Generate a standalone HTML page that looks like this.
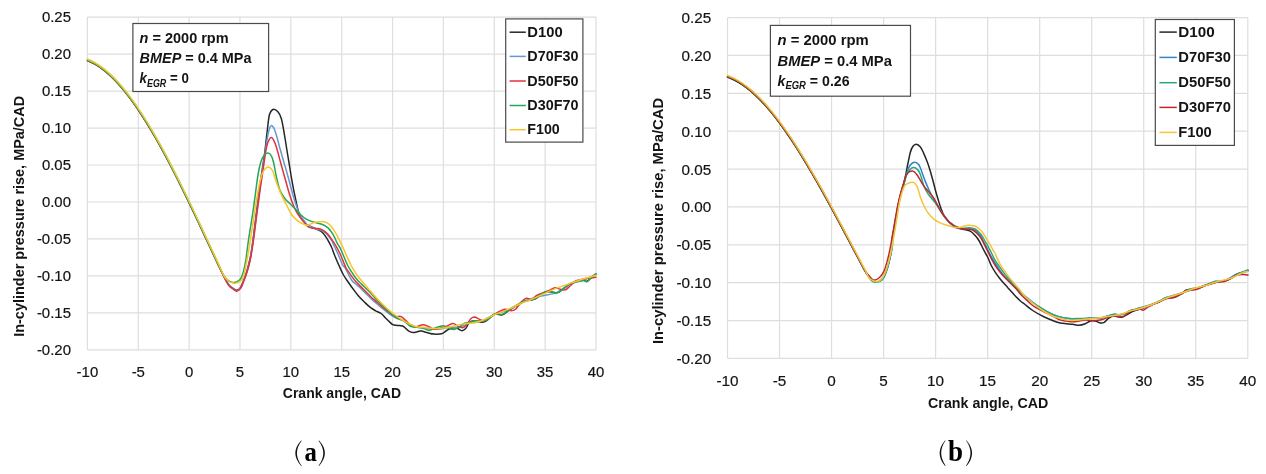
<!DOCTYPE html>
<html><head><meta charset="utf-8"><style>
html,body{margin:0;padding:0;background:#fff;}
svg{display:block;will-change:transform;font-family:"Liberation Sans",sans-serif;}
</style></head><body>
<svg width="1266" height="474" viewBox="0 0 1266 474">
<rect width="1266" height="474" fill="#fff"/>
<g stroke="#dedede" stroke-width="1.2" shape-rendering="auto">
<line x1="87.40" y1="17.10" x2="87.40" y2="349.90"/>
<line x1="138.26" y1="17.10" x2="138.26" y2="349.90"/>
<line x1="189.12" y1="17.10" x2="189.12" y2="349.90"/>
<line x1="239.98" y1="17.10" x2="239.98" y2="349.90"/>
<line x1="290.84" y1="17.10" x2="290.84" y2="349.90"/>
<line x1="341.70" y1="17.10" x2="341.70" y2="349.90"/>
<line x1="392.56" y1="17.10" x2="392.56" y2="349.90"/>
<line x1="443.42" y1="17.10" x2="443.42" y2="349.90"/>
<line x1="494.28" y1="17.10" x2="494.28" y2="349.90"/>
<line x1="545.14" y1="17.10" x2="545.14" y2="349.90"/>
<line x1="596.00" y1="17.10" x2="596.00" y2="349.90"/>
<line x1="87.40" y1="17.10" x2="596.00" y2="17.10"/>
<line x1="87.40" y1="54.08" x2="596.00" y2="54.08"/>
<line x1="87.40" y1="91.06" x2="596.00" y2="91.06"/>
<line x1="87.40" y1="128.03" x2="596.00" y2="128.03"/>
<line x1="87.40" y1="165.01" x2="596.00" y2="165.01"/>
<line x1="87.40" y1="201.99" x2="596.00" y2="201.99"/>
<line x1="87.40" y1="238.97" x2="596.00" y2="238.97"/>
<line x1="87.40" y1="275.94" x2="596.00" y2="275.94"/>
<line x1="87.40" y1="312.92" x2="596.00" y2="312.92"/>
<line x1="87.40" y1="349.90" x2="596.00" y2="349.90"/>
</g>
<g font-size="15.4" fill="#141414" stroke="#141414" stroke-width="0.2" text-anchor="end">
<text x="71.0" y="22.4" textLength="29.1" lengthAdjust="spacingAndGlyphs">0.25</text>
<text x="71.0" y="59.4" textLength="29.1" lengthAdjust="spacingAndGlyphs">0.20</text>
<text x="71.0" y="96.4" textLength="29.1" lengthAdjust="spacingAndGlyphs">0.15</text>
<text x="71.0" y="133.3" textLength="29.1" lengthAdjust="spacingAndGlyphs">0.10</text>
<text x="71.0" y="170.3" textLength="29.1" lengthAdjust="spacingAndGlyphs">0.05</text>
<text x="71.0" y="207.3" textLength="29.1" lengthAdjust="spacingAndGlyphs">0.00</text>
<text x="71.0" y="244.3" textLength="34.1" lengthAdjust="spacingAndGlyphs">-0.05</text>
<text x="71.0" y="281.2" textLength="34.1" lengthAdjust="spacingAndGlyphs">-0.10</text>
<text x="71.0" y="318.2" textLength="34.1" lengthAdjust="spacingAndGlyphs">-0.15</text>
<text x="71.0" y="355.2" textLength="34.1" lengthAdjust="spacingAndGlyphs">-0.20</text>
</g>
<g font-size="15.4" fill="#141414" stroke="#141414" stroke-width="0.2" text-anchor="middle">
<text x="87.4" y="376.8" textLength="21.6" lengthAdjust="spacingAndGlyphs">-10</text>
<text x="138.3" y="376.8" textLength="13.3" lengthAdjust="spacingAndGlyphs">-5</text>
<text x="189.1" y="376.8" textLength="8.3" lengthAdjust="spacingAndGlyphs">0</text>
<text x="240.0" y="376.8" textLength="8.3" lengthAdjust="spacingAndGlyphs">5</text>
<text x="290.8" y="376.8" textLength="16.6" lengthAdjust="spacingAndGlyphs">10</text>
<text x="341.7" y="376.8" textLength="16.6" lengthAdjust="spacingAndGlyphs">15</text>
<text x="392.6" y="376.8" textLength="16.6" lengthAdjust="spacingAndGlyphs">20</text>
<text x="443.4" y="376.8" textLength="16.6" lengthAdjust="spacingAndGlyphs">25</text>
<text x="494.3" y="376.8" textLength="16.6" lengthAdjust="spacingAndGlyphs">30</text>
<text x="545.1" y="376.8" textLength="16.6" lengthAdjust="spacingAndGlyphs">35</text>
<text x="596.0" y="376.8" textLength="16.6" lengthAdjust="spacingAndGlyphs">40</text>
</g>
<text x="341.9" y="397.9" font-size="14.5" font-weight="bold" fill="#141414" text-anchor="middle" textLength="118.2" lengthAdjust="spacingAndGlyphs">Crank angle, CAD</text>
<text transform="translate(23.8,216.3) rotate(-90)" font-size="14.3" font-weight="bold" fill="#141414" text-anchor="middle" textLength="241.0" lengthAdjust="spacingAndGlyphs">In-cylinder pressure rise, MPa/CAD</text>
<g fill="none" stroke-width="1.5" stroke-linejoin="round" stroke-linecap="round">
<path stroke="#262626" d="M87.5,60.6 C88.8,61.2 92.5,62.8 95.0,64.2 C97.5,65.6 100.0,67.3 102.5,69.2 C105.0,71.1 107.5,73.2 110.0,75.5 C112.5,77.8 115.0,80.3 117.5,83.0 C120.0,85.7 122.5,88.7 125.0,91.8 C127.5,94.9 130.0,98.1 132.5,101.6 C135.0,105.0 137.5,108.7 140.0,112.5 C142.5,116.3 145.0,120.2 147.5,124.3 C150.0,128.4 152.5,132.6 155.0,136.9 C157.5,141.2 160.0,145.7 162.5,150.3 C165.0,154.9 167.1,158.8 170.0,164.4 C172.9,170.0 176.7,177.4 180.0,184.1 C183.3,190.8 186.7,197.7 190.0,204.6 C193.3,211.5 196.7,218.6 200.0,225.7 C203.3,232.8 207.0,240.8 210.0,247.2 C213.0,253.6 215.7,259.5 218.0,264.4 C220.3,269.2 222.0,272.9 223.8,276.3 C225.6,279.7 227.4,283.1 228.9,285.0 C230.4,286.9 231.4,287.1 232.7,288.0 C234.0,288.9 235.2,290.3 236.5,290.3 C237.8,290.3 239.1,289.6 240.3,287.8 C241.6,286.0 242.8,282.5 244.0,279.5 C245.2,276.5 246.1,273.8 247.2,270.0 C248.3,266.2 249.4,262.0 250.4,257.0 C251.4,252.0 252.0,247.5 253.0,240.0 C254.0,232.5 255.4,220.7 256.5,212.0 C257.6,203.3 258.6,194.7 259.5,188.0 C260.4,181.3 261.1,177.0 261.9,172.0 C262.6,167.0 263.4,162.0 264.0,158.0 C264.6,154.0 264.7,153.3 265.3,148.0 C265.9,142.7 267.1,131.6 267.8,126.0 C268.5,120.4 268.6,117.2 269.5,114.5 C270.4,111.8 271.5,110.0 272.9,109.5 C274.3,109.0 276.5,110.3 277.9,111.8 C279.3,113.3 280.3,115.3 281.3,118.5 C282.3,121.7 282.9,125.8 283.8,131.0 C284.7,136.2 286.0,144.3 286.9,150.0 C287.8,155.7 288.6,160.1 289.4,165.2 C290.2,170.3 291.0,175.6 291.9,180.4 C292.8,185.2 293.6,189.7 294.5,193.9 C295.4,198.1 296.2,202.2 297.0,205.7 C297.8,209.2 298.4,212.5 299.5,215.0 C300.6,217.5 302.6,219.3 303.8,220.9 C305.0,222.5 305.1,223.3 306.7,224.5 C308.3,225.7 311.6,226.9 313.5,227.8 C315.4,228.7 316.7,229.3 318.0,229.9 C319.3,230.5 320.1,230.7 321.2,231.5 C322.2,232.3 323.4,233.4 324.3,234.6 C325.2,235.8 326.0,237.0 326.9,238.4 C327.8,239.8 328.6,241.4 329.4,242.8 C330.2,244.2 330.6,245.0 331.5,247.0 C332.4,249.0 333.2,251.9 334.5,255.0 C335.8,258.1 337.5,262.2 339.0,265.5 C340.5,268.8 341.8,272.0 343.5,275.0 C345.2,278.0 347.6,281.1 349.2,283.5 C350.8,285.9 351.8,287.2 353.4,289.4 C355.0,291.6 357.0,294.2 359.0,296.5 C361.0,298.8 363.4,301.0 365.3,302.9 C367.2,304.8 368.9,306.4 370.6,307.7 C372.4,309.0 374.1,309.9 375.8,310.9 C377.6,311.9 379.5,312.4 381.1,313.5 C382.7,314.6 383.9,316.3 385.3,317.7 C386.7,319.1 388.4,320.8 389.6,321.9 C390.8,323.0 391.5,324.0 392.7,324.6 C393.9,325.2 395.3,325.2 397.0,325.4 C398.7,325.6 400.8,325.1 402.7,326.0 C404.6,326.9 406.6,329.7 408.4,330.8 C410.1,331.9 411.6,332.5 413.2,332.6 C414.8,332.7 416.6,331.8 418.0,331.5 C419.4,331.2 419.8,330.9 421.4,331.1 C423.0,331.3 425.6,332.3 427.7,332.8 C429.8,333.3 431.7,334.0 434.0,334.1 C436.3,334.2 439.5,334.3 441.6,333.7 C443.7,333.1 445.0,331.4 446.7,330.5 C448.4,329.6 450.1,328.4 451.8,328.0 C453.5,327.6 455.1,327.6 456.8,328.0 C458.5,328.5 460.4,330.7 461.9,330.7 C463.4,330.8 464.4,329.9 465.7,328.5 C467.0,327.1 468.0,323.7 469.5,322.4 C471.0,321.1 472.7,320.9 474.6,320.8 C476.5,320.8 479.0,322.3 480.9,322.3 C482.8,322.3 483.7,322.3 486.0,321.0 C488.3,319.7 492.1,315.3 494.8,314.3 C497.5,313.3 499.7,315.6 502.2,314.8 C504.7,314.1 507.1,311.4 509.6,309.8 C512.1,308.2 514.5,306.7 517.0,305.3 C519.5,303.9 521.8,302.4 524.3,301.5 C526.8,300.6 529.7,300.4 531.7,299.9 C533.7,299.4 534.3,299.5 536.3,298.3 C538.3,297.1 541.6,293.9 543.9,292.8 C546.2,291.7 548.2,291.8 550.3,291.8 C552.4,291.8 554.5,293.2 556.6,292.8 C558.7,292.4 560.8,290.7 562.9,289.3 C565.0,287.9 567.1,285.6 569.2,284.3 C571.3,283.0 573.3,282.4 575.6,281.7 C577.9,281.0 581.3,280.4 583.2,280.3 C585.1,280.2 585.5,281.9 587.0,281.3 C588.5,280.7 590.5,278.0 592.0,276.8 C593.5,275.6 595.3,274.7 596.0,274.3"/>
<path stroke="#6499d0" d="M87.5,60.4 C88.8,61.0 92.5,62.6 95.0,64.0 C97.5,65.4 100.0,67.1 102.5,69.0 C105.0,70.9 107.5,73.0 110.0,75.3 C112.5,77.6 115.0,80.1 117.5,82.8 C120.0,85.5 122.5,88.5 125.0,91.6 C127.5,94.7 130.0,97.9 132.5,101.4 C135.0,104.8 137.5,108.5 140.0,112.3 C142.5,116.1 145.0,120.0 147.5,124.1 C150.0,128.2 152.5,132.4 155.0,136.7 C157.5,141.0 160.0,145.5 162.5,150.1 C165.0,154.7 167.1,158.6 170.0,164.2 C172.9,169.8 176.7,177.2 180.0,183.9 C183.3,190.6 186.7,197.5 190.0,204.4 C193.3,211.3 196.7,218.4 200.0,225.5 C203.3,232.6 207.0,240.6 210.0,247.0 C213.0,253.4 215.7,259.3 218.0,264.2 C220.3,269.1 222.0,272.8 223.8,276.3 C225.6,279.8 227.4,283.3 228.9,285.3 C230.4,287.3 231.4,287.4 232.7,288.3 C234.0,289.2 235.2,290.8 236.5,290.8 C237.8,290.8 239.1,290.0 240.3,288.2 C241.6,286.4 242.8,282.9 244.0,280.0 C245.2,277.1 246.1,274.5 247.2,270.8 C248.3,267.1 249.4,263.1 250.4,258.0 C251.4,252.9 252.1,247.7 253.2,240.0 C254.3,232.3 255.7,220.8 256.8,212.0 C257.9,203.2 259.1,194.5 260.0,187.5 C260.9,180.5 261.8,175.1 262.5,170.0 C263.2,164.9 263.8,162.0 264.5,157.0 C265.2,152.0 266.2,144.5 267.0,140.0 C267.8,135.5 268.3,132.4 269.0,130.0 C269.7,127.6 270.4,126.0 271.2,125.6 C271.9,125.2 272.8,126.4 273.5,127.5 C274.2,128.6 274.7,130.1 275.4,132.0 C276.1,133.9 276.8,136.5 277.5,139.0 C278.2,141.5 278.6,143.4 279.6,147.2 C280.7,151.0 282.5,157.5 283.8,162.0 C285.1,166.5 286.0,169.4 287.3,174.0 C288.6,178.6 290.4,185.6 291.5,189.5 C292.6,193.4 292.7,194.3 293.6,197.3 C294.5,200.3 295.9,204.5 297.0,207.4 C298.1,210.3 298.9,212.8 300.0,215.0 C301.1,217.2 302.5,218.8 303.8,220.5 C305.1,222.2 306.4,224.3 308.0,225.5 C309.6,226.7 311.8,227.1 313.5,227.8 C315.2,228.5 316.6,229.1 318.0,229.5 C319.4,229.9 320.5,229.9 321.8,230.5 C323.1,231.1 324.4,232.0 325.6,233.0 C326.8,234.0 327.8,235.2 328.8,236.5 C329.9,237.8 331.1,239.6 331.9,241.0 C332.7,242.4 332.7,242.7 333.8,245.0 C334.9,247.3 336.9,251.7 338.4,255.0 C339.9,258.3 341.5,262.9 342.6,265.0 C343.7,267.1 344.0,265.9 345.0,267.5 C346.0,269.1 347.3,272.2 348.4,274.3 C349.5,276.4 350.6,278.7 351.7,280.2 C352.8,281.7 353.8,282.4 355.1,283.5 C356.4,284.6 357.9,285.6 359.3,286.9 C360.7,288.2 362.1,289.7 363.5,291.1 C364.9,292.5 366.3,293.9 367.7,295.3 C369.1,296.7 370.8,298.4 372.0,299.5 C373.2,300.6 373.4,300.7 375.0,302.1 C376.6,303.5 379.4,306.0 381.8,308.0 C384.2,310.0 387.2,312.4 389.4,314.0 C391.6,315.6 392.9,316.4 395.1,317.5 C397.3,318.6 400.5,319.2 402.7,320.3 C404.9,321.4 406.5,323.0 408.4,324.1 C410.3,325.2 412.2,326.4 414.1,327.0 C416.0,327.6 417.4,327.2 420.0,327.5 C422.6,327.8 426.7,328.8 430.0,329.0 C433.3,329.2 436.7,329.3 440.0,329.0 C443.3,328.7 446.7,327.3 450.0,327.0 C453.3,326.7 456.7,327.8 460.0,327.1 C463.3,326.4 466.7,323.7 470.0,322.8 C473.3,322.0 475.9,323.2 480.0,321.8 C484.1,320.4 489.9,316.4 494.8,314.3 C499.7,312.2 504.7,311.7 509.6,309.5 C514.5,307.3 519.2,303.5 524.3,301.3 C529.4,299.1 534.6,297.6 540.0,296.2 C545.4,294.8 551.7,294.6 556.6,292.6 C561.5,290.6 564.8,286.4 569.2,284.3 C573.6,282.2 578.7,282.0 583.2,280.3 C587.7,278.6 593.9,275.3 596.0,274.3"/>
<path stroke="#e2323c" d="M87.5,60.2 C88.8,60.8 92.5,62.4 95.0,63.8 C97.5,65.2 100.0,66.9 102.5,68.8 C105.0,70.7 107.5,72.8 110.0,75.1 C112.5,77.4 115.0,79.9 117.5,82.6 C120.0,85.3 122.5,88.3 125.0,91.4 C127.5,94.5 130.0,97.7 132.5,101.2 C135.0,104.6 137.5,108.3 140.0,112.1 C142.5,115.9 145.0,119.8 147.5,123.9 C150.0,128.0 152.5,132.2 155.0,136.5 C157.5,140.8 160.0,145.3 162.5,149.9 C165.0,154.5 167.1,158.4 170.0,164.0 C172.9,169.6 176.7,177.0 180.0,183.7 C183.3,190.4 186.7,197.3 190.0,204.2 C193.3,211.1 196.7,218.2 200.0,225.3 C203.3,232.4 207.0,240.3 210.0,246.8 C213.0,253.2 215.7,259.1 218.0,264.0 C220.3,268.9 222.0,272.9 223.8,276.5 C225.6,280.1 227.4,283.6 228.9,285.6 C230.4,287.6 231.4,287.8 232.7,288.7 C234.0,289.6 235.2,291.3 236.5,291.3 C237.8,291.3 239.1,290.5 240.3,288.7 C241.6,286.9 242.8,283.4 244.0,280.5 C245.2,277.6 246.1,275.2 247.2,271.6 C248.3,268.0 249.3,264.3 250.4,259.0 C251.5,253.7 252.4,247.8 253.5,240.0 C254.6,232.2 255.9,221.0 257.1,212.2 C258.3,203.3 259.5,193.9 260.5,186.9 C261.5,179.9 262.2,175.7 263.0,170.0 C263.8,164.3 264.7,157.6 265.5,153.0 C266.3,148.4 266.9,145.1 267.8,142.5 C268.8,139.9 270.1,137.5 271.2,137.4 C272.3,137.3 273.6,139.8 274.6,142.1 C275.7,144.4 276.4,147.3 277.5,151.0 C278.6,154.7 279.7,159.3 281.0,164.0 C282.3,168.7 283.8,174.0 285.2,179.0 C286.6,184.0 288.0,189.5 289.4,193.9 C290.8,198.3 292.2,202.3 293.6,205.7 C295.0,209.1 296.2,211.6 297.8,214.1 C299.4,216.6 301.1,218.8 302.9,220.9 C304.7,223.1 306.6,225.8 308.4,227.0 C310.2,228.2 311.9,228.0 313.5,228.3 C315.1,228.6 316.6,228.4 318.0,228.6 C319.4,228.8 320.5,229.0 321.8,229.6 C323.1,230.2 324.4,231.1 325.6,232.1 C326.8,233.1 327.8,234.0 328.8,235.3 C329.9,236.6 330.8,238.1 331.9,239.7 C333.0,241.3 333.9,242.4 335.4,245.0 C336.8,247.6 338.9,251.2 340.6,255.0 C342.3,258.8 344.4,264.6 345.8,267.5 C347.2,270.4 348.1,270.9 349.2,272.6 C350.3,274.3 351.5,276.1 352.6,277.6 C353.7,279.1 354.7,280.4 356.0,281.8 C357.3,283.2 358.8,284.7 360.2,286.1 C361.6,287.5 363.0,288.9 364.4,290.3 C365.8,291.7 367.2,293.1 368.6,294.5 C370.0,295.9 371.7,297.7 372.8,298.7 C373.9,299.7 373.5,299.1 375.0,300.4 C376.5,301.7 379.4,304.4 381.8,306.5 C384.2,308.6 387.2,311.0 389.4,312.7 C391.6,314.4 393.2,315.9 395.1,316.5 C397.0,317.1 399.1,315.9 400.8,316.5 C402.6,317.1 404.0,318.9 405.6,320.3 C407.2,321.7 408.5,324.0 410.3,325.1 C412.1,326.2 414.2,326.8 416.3,326.7 C418.4,326.6 420.6,324.8 422.7,324.8 C424.8,324.8 427.1,326.0 429.0,326.7 C430.9,327.4 432.1,329.0 434.0,329.2 C435.9,329.4 438.3,328.5 440.4,328.0 C442.5,327.5 444.6,326.9 446.7,326.1 C448.8,325.4 451.1,323.5 453.0,323.5 C454.9,323.5 456.4,325.5 458.1,326.2 C459.8,326.8 461.7,328.0 463.2,327.6 C464.7,327.3 465.7,325.6 467.0,324.1 C468.3,322.6 469.5,319.9 470.8,318.7 C472.1,317.5 473.2,317.1 474.6,317.1 C476.0,317.2 477.5,318.5 479.0,319.1 C480.5,319.7 482.1,320.9 483.4,321.0 C484.7,321.1 485.6,320.6 487.0,319.8 C488.4,319.0 490.0,317.2 491.8,316.0 C493.6,314.8 495.5,313.4 497.7,312.3 C499.9,311.2 502.9,309.6 505.1,309.3 C507.3,309.1 509.3,310.8 511.0,310.8 C512.7,310.8 513.8,310.8 515.5,309.3 C517.2,307.8 519.6,303.7 521.4,301.9 C523.2,300.1 524.8,298.7 526.5,298.3 C528.2,297.9 530.1,300.1 531.7,299.7 C533.3,299.2 534.3,296.8 536.3,295.6 C538.3,294.4 541.6,293.4 543.9,292.4 C546.2,291.5 548.4,290.7 550.3,289.9 C552.2,289.1 553.6,287.9 555.3,287.8 C557.0,287.7 558.7,288.9 560.4,289.3 C562.1,289.7 563.7,290.5 565.4,289.9 C567.1,289.3 568.8,287.0 570.5,285.5 C572.2,284.0 573.9,281.9 575.6,281.0 C577.3,280.1 578.9,280.2 580.6,279.8 C582.3,279.4 584.0,278.8 585.7,278.5 C587.4,278.2 589.1,278.1 590.8,277.9 C592.5,277.7 595.1,277.4 596.0,277.3"/>
<path stroke="#24a656" d="M87.5,60.0 C88.8,60.6 92.5,62.2 95.0,63.6 C97.5,65.0 100.0,66.7 102.5,68.6 C105.0,70.5 107.5,72.6 110.0,74.9 C112.5,77.2 115.0,79.7 117.5,82.4 C120.0,85.1 122.5,88.1 125.0,91.2 C127.5,94.3 130.0,97.5 132.5,101.0 C135.0,104.5 137.5,108.1 140.0,111.9 C142.5,115.7 145.0,119.6 147.5,123.7 C150.0,127.8 152.5,132.0 155.0,136.3 C157.5,140.6 160.0,145.1 162.5,149.7 C165.0,154.3 167.1,158.2 170.0,163.8 C172.9,169.4 176.7,176.8 180.0,183.5 C183.3,190.2 186.7,197.1 190.0,204.0 C193.3,210.9 196.7,218.0 200.0,225.1 C203.3,232.2 207.0,240.2 210.0,246.6 C213.0,253.0 215.7,259.0 218.0,263.8 C220.3,268.6 222.1,272.8 223.8,275.5 C225.5,278.2 226.6,279.2 228.0,280.3 C229.4,281.4 231.1,282.1 232.5,282.4 C233.9,282.7 235.2,282.6 236.5,282.0 C237.8,281.4 239.3,280.7 240.5,279.0 C241.7,277.3 242.5,274.9 243.4,271.6 C244.3,268.3 245.2,264.3 246.0,259.0 C246.8,253.7 247.3,247.8 248.5,240.0 C249.7,232.2 251.6,221.0 252.9,212.2 C254.2,203.3 255.4,193.6 256.3,186.9 C257.2,180.2 257.7,176.2 258.5,172.0 C259.3,167.8 260.1,164.3 261.0,161.5 C261.9,158.7 262.9,156.8 264.0,155.4 C265.1,154.0 266.6,153.1 267.8,153.1 C269.0,153.1 270.2,153.9 271.2,155.6 C272.2,157.2 272.8,159.2 273.7,163.0 C274.6,166.8 275.7,174.1 276.8,178.7 C277.9,183.3 278.7,187.1 280.1,190.5 C281.5,193.9 283.5,196.8 285.2,199.0 C286.9,201.2 288.3,202.0 290.3,204.0 C292.3,206.0 294.8,208.6 297.0,210.8 C299.2,213.1 301.6,215.8 303.8,217.5 C306.0,219.2 307.6,220.0 310.0,220.9 C312.4,221.8 316.0,222.6 318.0,223.2 C320.0,223.8 320.5,223.7 321.8,224.2 C323.1,224.7 324.4,225.4 325.6,226.1 C326.8,226.8 327.8,227.5 328.8,228.6 C329.9,229.7 330.9,231.3 331.9,232.7 C332.8,234.1 333.6,235.5 334.5,237.2 C335.4,238.9 336.1,241.1 337.0,242.8 C337.9,244.5 339.0,245.7 340.0,247.6 C341.0,249.5 341.8,251.6 343.0,254.5 C344.2,257.4 346.2,262.3 347.5,265.0 C348.8,267.7 349.8,269.1 350.9,270.9 C352.0,272.7 353.2,274.4 354.3,276.0 C355.4,277.6 356.4,278.8 357.6,280.2 C358.9,281.6 360.4,283.0 361.8,284.4 C363.2,285.8 364.7,287.2 366.1,288.6 C367.5,290.0 368.8,291.2 370.3,292.8 C371.8,294.4 373.1,295.9 375.0,297.9 C376.9,299.9 379.4,302.6 381.8,305.0 C384.2,307.4 386.9,309.8 389.4,312.0 C391.9,314.2 394.5,316.4 397.0,318.0 C399.5,319.6 402.4,320.0 404.6,321.3 C406.8,322.6 408.1,325.0 410.0,326.0 C411.9,327.0 414.2,327.0 416.3,327.3 C418.4,327.6 420.6,327.5 422.7,328.0 C424.8,328.5 426.9,330.5 429.0,330.5 C431.1,330.5 433.0,328.8 435.3,328.0 C437.6,327.2 440.8,325.7 442.9,325.7 C445.0,325.7 446.1,327.4 448.0,328.0 C449.9,328.6 452.4,329.7 454.3,329.5 C456.2,329.3 457.7,327.8 459.4,326.8 C461.1,325.8 462.7,324.0 464.4,323.3 C466.1,322.6 467.8,322.8 469.5,322.4 C471.2,322.0 472.9,321.1 474.6,320.8 C476.4,320.6 477.9,321.0 480.0,320.8 C482.1,320.6 484.9,320.9 487.4,319.7 C489.9,318.5 492.3,314.7 494.8,313.8 C497.3,312.9 499.7,315.2 502.2,314.5 C504.7,313.8 507.1,310.9 509.6,309.3 C512.1,307.7 514.5,306.3 517.0,304.9 C519.5,303.6 521.8,302.1 524.3,301.2 C526.8,300.3 529.7,300.2 531.7,299.7 C533.7,299.2 534.3,299.3 536.3,298.1 C538.3,296.9 541.6,293.5 543.9,292.4 C546.2,291.4 548.2,291.7 550.3,291.8 C552.4,291.9 554.5,293.5 556.6,293.1 C558.7,292.7 560.8,290.8 562.9,289.3 C565.0,287.8 567.1,285.5 569.2,284.2 C571.3,282.9 573.3,282.3 575.6,281.7 C577.9,281.1 581.3,280.4 583.2,280.4 C585.1,280.4 585.5,282.3 587.0,281.7 C588.5,281.1 590.5,278.0 592.0,276.6 C593.5,275.2 595.3,274.0 596.0,273.5"/>
<path stroke="#f8c426" d="M87.5,59.1 C88.8,59.7 92.5,61.3 95.0,62.7 C97.5,64.1 100.0,65.8 102.5,67.7 C105.0,69.6 107.5,71.7 110.0,74.0 C112.5,76.3 115.0,78.8 117.5,81.5 C120.0,84.2 122.5,87.2 125.0,90.3 C127.5,93.4 130.0,96.6 132.5,100.1 C135.0,103.5 137.5,107.2 140.0,111.0 C142.5,114.8 145.0,118.7 147.5,122.8 C150.0,126.9 152.5,131.1 155.0,135.4 C157.5,139.7 160.0,144.2 162.5,148.8 C165.0,153.4 167.1,157.3 170.0,162.9 C172.9,168.5 176.7,175.9 180.0,182.6 C183.3,189.3 186.7,196.2 190.0,203.1 C193.3,210.0 196.7,217.1 200.0,224.2 C203.3,231.3 207.0,239.2 210.0,245.7 C213.0,252.1 215.7,257.9 218.0,262.9 C220.3,267.9 222.1,272.6 223.8,275.5 C225.5,278.4 226.4,279.2 228.0,280.5 C229.6,281.8 231.6,282.6 233.2,283.0 C234.8,283.4 236.0,283.2 237.5,282.6 C239.0,282.0 240.8,281.3 242.0,279.5 C243.2,277.7 243.8,275.4 244.7,271.6 C245.6,267.8 246.6,261.8 247.6,256.5 C248.6,251.2 249.2,247.4 250.4,240.0 C251.6,232.6 253.2,221.0 254.6,212.2 C256.0,203.3 257.7,192.9 258.8,186.9 C259.9,180.9 260.6,178.9 261.5,176.0 C262.4,173.1 263.3,171.0 264.5,169.5 C265.7,168.0 267.4,166.9 268.7,167.1 C270.0,167.3 271.4,168.5 272.5,170.5 C273.6,172.5 274.4,176.5 275.3,179.0 C276.2,181.5 276.5,182.6 277.6,185.4 C278.7,188.2 280.2,192.2 281.8,195.6 C283.4,199.0 285.2,202.5 286.9,205.7 C288.6,208.9 290.1,212.5 291.9,215.0 C293.7,217.5 295.8,219.3 297.8,220.9 C299.8,222.5 302.1,223.6 303.8,224.3 C305.5,225.0 306.4,225.4 308.0,225.2 C309.6,224.9 311.8,223.3 313.5,222.8 C315.2,222.3 316.4,222.2 318.0,222.0 C319.6,221.8 321.5,221.4 323.1,221.6 C324.7,221.8 326.2,222.5 327.5,223.2 C328.8,223.9 329.6,224.6 330.7,225.8 C331.8,227.0 332.8,228.6 333.8,230.2 C334.9,231.8 335.9,233.4 337.0,235.3 C338.1,237.2 339.2,239.6 340.2,241.6 C341.2,243.6 342.0,245.4 343.0,247.5 C344.0,249.6 344.7,251.5 346.0,254.4 C347.3,257.3 349.5,262.2 350.9,265.0 C352.3,267.8 353.2,269.1 354.3,270.9 C355.4,272.7 356.4,274.3 357.6,276.0 C358.9,277.7 360.4,279.3 361.8,281.0 C363.2,282.7 364.7,284.4 366.1,286.1 C367.5,287.8 368.8,289.4 370.3,291.1 C371.8,292.8 373.1,294.1 375.0,296.2 C376.9,298.3 379.4,301.1 381.8,303.5 C384.2,305.9 386.9,308.3 389.4,310.5 C391.9,312.7 394.5,314.7 397.0,316.5 C399.5,318.3 402.4,320.0 404.6,321.3 C406.8,322.6 408.1,323.3 410.0,324.2 C411.9,325.1 414.2,326.2 416.3,326.7 C418.4,327.2 420.6,327.1 422.7,327.3 C424.8,327.5 426.9,327.8 429.0,328.0 C431.1,328.2 433.0,328.6 435.3,328.6 C437.6,328.6 440.8,328.2 442.9,328.0 C445.0,327.8 446.1,327.6 448.0,327.3 C449.9,327.0 452.2,326.6 454.3,326.1 C456.4,325.6 458.5,324.8 460.6,324.4 C462.7,323.9 464.9,323.8 467.0,323.5 C469.1,323.2 471.0,323.1 473.3,322.7 C475.6,322.3 478.6,321.7 480.9,321.0 C483.2,320.3 484.7,319.4 487.0,318.3 C489.3,317.2 491.0,316.1 494.8,314.5 C498.6,312.9 504.7,310.7 509.6,308.6 C514.5,306.5 520.9,303.3 524.3,301.9 C527.7,300.5 526.9,301.3 530.0,300.0 C533.1,298.7 538.5,296.2 542.7,294.3 C546.9,292.4 551.1,290.3 555.3,288.6 C559.5,286.9 563.8,285.7 568.0,284.2 C572.2,282.7 575.9,281.3 580.6,279.8 C585.3,278.3 593.4,276.1 596.0,275.3"/>
</g>
<defs><linearGradient id="fga" gradientUnits="userSpaceOnUse" x1="200.0" y1="0" x2="216.0" y2="0"><stop offset="0" stop-color="#fff"/><stop offset="1" stop-color="#000"/></linearGradient><mask id="fma" maskUnits="userSpaceOnUse" x="0" y="0" width="1266" height="474"><rect x="0" y="0" width="1266" height="474" fill="url(#fga)"/></mask></defs>
<g fill="none" stroke-linejoin="round" stroke-linecap="round" mask="url(#fma)">
<path stroke="#55652a" stroke-width="1.30" transform="translate(0,1.00)" d="M87.5,59.6 C88.8,60.2 92.5,61.8 95.0,63.2 C97.5,64.6 100.0,66.3 102.5,68.2 C105.0,70.1 107.5,72.2 110.0,74.5 C112.5,76.8 115.0,79.3 117.5,82.0 C120.0,84.7 122.5,87.7 125.0,90.8 C127.5,93.9 130.0,97.1 132.5,100.6 C135.0,104.0 137.5,107.7 140.0,111.5 C142.5,115.3 145.0,119.2 147.5,123.3 C150.0,127.4 152.5,131.6 155.0,135.9 C157.5,140.2 160.0,144.7 162.5,149.3 C165.0,153.9 167.1,157.8 170.0,163.4 C172.9,169.0 176.7,176.4 180.0,183.1 C183.3,189.8 186.7,196.7 190.0,203.6 C193.3,210.5 196.7,217.6 200.0,224.7 C203.3,231.8 207.0,239.8 210.0,246.2 C213.0,252.6 215.7,258.5 218.0,263.4 C220.3,268.3 222.8,273.5 223.8,275.5"/>
<path stroke="#a9b83c" stroke-width="1.50" transform="translate(0,0.15)" d="M87.5,59.6 C88.8,60.2 92.5,61.8 95.0,63.2 C97.5,64.6 100.0,66.3 102.5,68.2 C105.0,70.1 107.5,72.2 110.0,74.5 C112.5,76.8 115.0,79.3 117.5,82.0 C120.0,84.7 122.5,87.7 125.0,90.8 C127.5,93.9 130.0,97.1 132.5,100.6 C135.0,104.0 137.5,107.7 140.0,111.5 C142.5,115.3 145.0,119.2 147.5,123.3 C150.0,127.4 152.5,131.6 155.0,135.9 C157.5,140.2 160.0,144.7 162.5,149.3 C165.0,153.9 167.1,157.8 170.0,163.4 C172.9,169.0 176.7,176.4 180.0,183.1 C183.3,189.8 186.7,196.7 190.0,203.6 C193.3,210.5 196.7,217.6 200.0,224.7 C203.3,231.8 207.0,239.8 210.0,246.2 C213.0,252.6 215.7,258.5 218.0,263.4 C220.3,268.3 222.8,273.5 223.8,275.5"/>
<path stroke="#e4dc5a" stroke-width="0.90" transform="translate(0,-0.65)" d="M87.5,59.6 C88.8,60.2 92.5,61.8 95.0,63.2 C97.5,64.6 100.0,66.3 102.5,68.2 C105.0,70.1 107.5,72.2 110.0,74.5 C112.5,76.8 115.0,79.3 117.5,82.0 C120.0,84.7 122.5,87.7 125.0,90.8 C127.5,93.9 130.0,97.1 132.5,100.6 C135.0,104.0 137.5,107.7 140.0,111.5 C142.5,115.3 145.0,119.2 147.5,123.3 C150.0,127.4 152.5,131.6 155.0,135.9 C157.5,140.2 160.0,144.7 162.5,149.3 C165.0,153.9 167.1,157.8 170.0,163.4 C172.9,169.0 176.7,176.4 180.0,183.1 C183.3,189.8 186.7,196.7 190.0,203.6 C193.3,210.5 196.7,217.6 200.0,224.7 C203.3,231.8 207.0,239.8 210.0,246.2 C213.0,252.6 215.7,258.5 218.0,263.4 C220.3,268.3 222.8,273.5 223.8,275.5"/>
</g>
<rect x="132.9" y="23.5" width="135.7" height="68.0" fill="#fff" stroke="#4a4a4a" stroke-width="1.2"/>
<g font-size="15.2" font-weight="bold" fill="#141414">
<text x="139.6" y="43.2" textLength="89.0" lengthAdjust="spacingAndGlyphs"><tspan font-style="italic">n</tspan> = 2000 rpm</text>
<text x="139.6" y="63.2" textLength="111.9" lengthAdjust="spacingAndGlyphs"><tspan font-style="italic">BMEP</tspan> = 0.4 MPa</text>
<text x="139.6" y="82.9" textLength="49.2" lengthAdjust="spacingAndGlyphs"><tspan font-style="italic">k</tspan><tspan font-style="italic" font-size="10.2" dy="3.6">EGR</tspan><tspan dy="-3.6"> = 0</tspan></text>
</g>
<rect x="505.7" y="18.9" width="77.2" height="123.2" fill="#fff" stroke="#4a4a4a" stroke-width="1.2"/>
<line x1="509.6" y1="32.2" x2="525.8" y2="32.2" stroke="#262626" stroke-width="1.5"/>
<text x="527.3" y="36.9" font-size="15" font-weight="bold" fill="#141414" textLength="35.3" lengthAdjust="spacingAndGlyphs">D100</text>
<line x1="509.6" y1="56.4" x2="525.8" y2="56.4" stroke="#6499d0" stroke-width="1.5"/>
<text x="527.3" y="61.1" font-size="15" font-weight="bold" fill="#141414" textLength="51.1" lengthAdjust="spacingAndGlyphs">D70F30</text>
<line x1="509.6" y1="81.0" x2="525.8" y2="81.0" stroke="#e2323c" stroke-width="1.5"/>
<text x="527.3" y="85.7" font-size="15" font-weight="bold" fill="#141414" textLength="51.1" lengthAdjust="spacingAndGlyphs">D50F50</text>
<line x1="509.6" y1="105.5" x2="525.8" y2="105.5" stroke="#24a656" stroke-width="1.5"/>
<text x="527.3" y="110.2" font-size="15" font-weight="bold" fill="#141414" textLength="51.1" lengthAdjust="spacingAndGlyphs">D30F70</text>
<line x1="509.6" y1="129.7" x2="525.8" y2="129.7" stroke="#f8c426" stroke-width="1.5"/>
<text x="527.3" y="134.4" font-size="15" font-weight="bold" fill="#141414" textLength="32.5" lengthAdjust="spacingAndGlyphs">F100</text>
<g stroke="#dedede" stroke-width="1.2" shape-rendering="auto">
<line x1="727.50" y1="17.60" x2="727.50" y2="358.40"/>
<line x1="779.53" y1="17.60" x2="779.53" y2="358.40"/>
<line x1="831.56" y1="17.60" x2="831.56" y2="358.40"/>
<line x1="883.59" y1="17.60" x2="883.59" y2="358.40"/>
<line x1="935.62" y1="17.60" x2="935.62" y2="358.40"/>
<line x1="987.65" y1="17.60" x2="987.65" y2="358.40"/>
<line x1="1039.68" y1="17.60" x2="1039.68" y2="358.40"/>
<line x1="1091.71" y1="17.60" x2="1091.71" y2="358.40"/>
<line x1="1143.74" y1="17.60" x2="1143.74" y2="358.40"/>
<line x1="1195.77" y1="17.60" x2="1195.77" y2="358.40"/>
<line x1="1247.80" y1="17.60" x2="1247.80" y2="358.40"/>
<line x1="727.50" y1="17.60" x2="1247.80" y2="17.60"/>
<line x1="727.50" y1="55.47" x2="1247.80" y2="55.47"/>
<line x1="727.50" y1="93.33" x2="1247.80" y2="93.33"/>
<line x1="727.50" y1="131.20" x2="1247.80" y2="131.20"/>
<line x1="727.50" y1="169.07" x2="1247.80" y2="169.07"/>
<line x1="727.50" y1="206.93" x2="1247.80" y2="206.93"/>
<line x1="727.50" y1="244.80" x2="1247.80" y2="244.80"/>
<line x1="727.50" y1="282.67" x2="1247.80" y2="282.67"/>
<line x1="727.50" y1="320.53" x2="1247.80" y2="320.53"/>
<line x1="727.50" y1="358.40" x2="1247.80" y2="358.40"/>
</g>
<g font-size="15.3" fill="#141414" stroke="#141414" stroke-width="0.2" text-anchor="end">
<text x="711.2" y="23.0" textLength="29.7" lengthAdjust="spacingAndGlyphs">0.25</text>
<text x="711.2" y="60.9" textLength="29.7" lengthAdjust="spacingAndGlyphs">0.20</text>
<text x="711.2" y="98.7" textLength="29.7" lengthAdjust="spacingAndGlyphs">0.15</text>
<text x="711.2" y="136.6" textLength="29.7" lengthAdjust="spacingAndGlyphs">0.10</text>
<text x="711.2" y="174.5" textLength="29.7" lengthAdjust="spacingAndGlyphs">0.05</text>
<text x="711.2" y="212.3" textLength="29.7" lengthAdjust="spacingAndGlyphs">0.00</text>
<text x="711.2" y="250.2" textLength="34.8" lengthAdjust="spacingAndGlyphs">-0.05</text>
<text x="711.2" y="288.1" textLength="34.8" lengthAdjust="spacingAndGlyphs">-0.10</text>
<text x="711.2" y="325.9" textLength="34.8" lengthAdjust="spacingAndGlyphs">-0.15</text>
<text x="711.2" y="363.8" textLength="34.8" lengthAdjust="spacingAndGlyphs">-0.20</text>
</g>
<g font-size="15.3" fill="#141414" stroke="#141414" stroke-width="0.2" text-anchor="middle">
<text x="727.5" y="385.8" textLength="22.1" lengthAdjust="spacingAndGlyphs">-10</text>
<text x="779.5" y="385.8" textLength="13.6" lengthAdjust="spacingAndGlyphs">-5</text>
<text x="831.6" y="385.8" textLength="8.5" lengthAdjust="spacingAndGlyphs">0</text>
<text x="883.6" y="385.8" textLength="8.5" lengthAdjust="spacingAndGlyphs">5</text>
<text x="935.6" y="385.8" textLength="17.0" lengthAdjust="spacingAndGlyphs">10</text>
<text x="987.6" y="385.8" textLength="17.0" lengthAdjust="spacingAndGlyphs">15</text>
<text x="1039.7" y="385.8" textLength="17.0" lengthAdjust="spacingAndGlyphs">20</text>
<text x="1091.7" y="385.8" textLength="17.0" lengthAdjust="spacingAndGlyphs">25</text>
<text x="1143.7" y="385.8" textLength="17.0" lengthAdjust="spacingAndGlyphs">30</text>
<text x="1195.8" y="385.8" textLength="17.0" lengthAdjust="spacingAndGlyphs">35</text>
<text x="1247.8" y="385.8" textLength="17.0" lengthAdjust="spacingAndGlyphs">40</text>
</g>
<text x="988.2" y="407.6" font-size="15.0" font-weight="bold" fill="#141414" text-anchor="middle" textLength="120.2" lengthAdjust="spacingAndGlyphs">Crank angle, CAD</text>
<text transform="translate(662.9,221.0) rotate(-90)" font-size="14.7" font-weight="bold" fill="#141414" text-anchor="middle" textLength="246.1" lengthAdjust="spacingAndGlyphs">In-cylinder pressure rise, MPa/CAD</text>
<g fill="none" stroke-width="1.5" stroke-linejoin="round" stroke-linecap="round">
<path stroke="#262626" d="M727.5,77.0 C728.8,77.5 732.5,79.0 735.0,80.3 C737.5,81.6 740.0,83.1 742.5,84.8 C745.0,86.5 747.5,88.4 750.0,90.5 C752.5,92.6 755.0,94.9 757.5,97.3 C760.0,99.7 762.5,102.3 765.0,105.1 C767.5,107.9 770.0,110.8 772.5,113.9 C775.0,117.0 777.5,120.2 780.0,123.6 C782.5,127.0 785.0,130.6 787.5,134.2 C790.0,137.8 792.5,141.5 795.0,145.4 C797.5,149.3 800.0,153.3 802.5,157.4 C805.0,161.5 807.1,164.9 810.0,169.9 C812.9,174.9 816.7,181.4 820.0,187.3 C823.3,193.2 826.7,199.3 830.0,205.4 C833.3,211.5 836.7,217.8 840.0,224.0 C843.3,230.2 846.7,236.5 850.0,242.8 C853.3,249.1 857.5,257.0 860.0,261.7 C862.5,266.4 863.5,268.7 865.0,271.1 C866.5,273.5 867.5,274.5 868.8,276.0 C870.1,277.5 871.3,279.2 872.6,280.2 C873.9,281.2 875.3,281.8 876.5,281.8 C877.7,281.9 878.8,281.3 880.0,280.5 C881.2,279.7 882.4,278.8 883.5,277.0 C884.6,275.2 885.6,272.5 886.5,270.0 C887.4,267.5 888.1,265.3 888.9,262.0 C889.7,258.7 890.9,253.9 891.5,250.0 C892.1,246.1 891.7,242.9 892.3,238.5 C892.9,234.1 894.0,228.6 894.9,223.5 C895.8,218.4 896.8,211.9 897.5,208.0 C898.2,204.1 898.6,202.7 899.2,200.0 C899.8,197.3 900.5,194.7 901.2,192.0 C901.9,189.3 902.9,186.8 903.6,184.0 C904.3,181.2 904.9,178.8 905.6,175.5 C906.3,172.2 907.0,167.8 907.8,164.0 C908.6,160.2 909.5,155.4 910.3,152.5 C911.1,149.6 911.8,147.9 912.8,146.5 C913.8,145.1 914.9,144.2 916.2,144.3 C917.5,144.4 919.1,145.4 920.4,146.9 C921.7,148.4 922.7,151.2 923.8,153.6 C924.9,156.0 926.0,158.7 927.1,161.5 C928.2,164.3 929.2,167.4 930.1,170.5 C931.0,173.6 931.9,176.7 932.8,180.0 C933.7,183.3 934.6,187.2 935.5,190.5 C936.4,193.8 937.4,197.1 938.3,200.1 C939.2,203.1 940.1,205.9 941.0,208.4 C941.9,210.9 942.6,213.1 943.8,215.2 C944.9,217.2 946.5,219.1 947.9,220.7 C949.3,222.3 950.8,223.7 952.0,224.8 C953.2,225.9 953.1,226.4 955.0,227.2 C956.9,228.0 960.9,228.8 963.4,229.4 C965.9,230.1 968.3,230.1 970.2,231.1 C972.1,232.1 973.5,233.7 975.0,235.3 C976.5,237.0 977.8,238.7 979.2,241.0 C980.6,243.3 982.0,246.7 983.4,249.4 C984.8,252.1 986.3,254.4 987.6,257.0 C988.9,259.6 989.8,262.5 991.0,265.0 C992.2,267.5 993.6,269.7 995.0,271.8 C996.4,273.9 997.8,275.9 999.2,277.7 C1000.6,279.5 1002.0,281.2 1003.4,282.8 C1004.8,284.4 1006.2,285.8 1007.6,287.4 C1009.0,288.9 1010.7,290.8 1011.8,292.1 C1012.9,293.4 1013.0,293.5 1014.4,295.0 C1015.8,296.5 1018.6,299.4 1020.4,301.0 C1022.2,302.6 1023.0,302.9 1025.0,304.5 C1027.0,306.1 1029.7,308.5 1032.7,310.5 C1035.8,312.5 1039.8,314.8 1043.3,316.5 C1046.8,318.2 1051.0,319.9 1053.8,321.0 C1056.6,322.1 1057.9,322.6 1060.0,323.0 C1062.1,323.4 1064.2,323.5 1066.3,323.7 C1068.4,323.9 1070.6,324.0 1072.7,324.3 C1074.8,324.6 1076.9,325.4 1079.0,325.3 C1081.1,325.2 1083.4,324.4 1085.3,323.7 C1087.2,323.0 1088.7,321.5 1090.4,321.1 C1092.1,320.7 1093.7,320.8 1095.4,321.1 C1097.1,321.4 1099.0,322.8 1100.5,323.0 C1102.0,323.2 1103.0,323.1 1104.3,322.4 C1105.6,321.7 1106.6,319.7 1108.1,318.6 C1109.6,317.6 1111.5,316.4 1113.2,316.1 C1114.9,315.8 1116.7,316.5 1118.2,316.7 C1119.7,316.9 1120.7,317.5 1122.0,317.3 C1123.3,317.1 1124.3,316.2 1125.8,315.4 C1127.3,314.6 1129.2,313.1 1130.9,312.3 C1132.6,311.5 1134.4,310.9 1135.9,310.4 C1137.4,309.9 1138.5,309.6 1140.0,309.1 C1141.5,308.6 1142.8,308.3 1144.8,307.6 C1146.8,306.9 1149.7,305.7 1152.2,304.7 C1154.7,303.7 1157.1,302.8 1159.6,301.7 C1162.0,300.6 1164.5,298.7 1166.9,298.0 C1169.4,297.3 1171.8,298.0 1174.3,297.3 C1176.8,296.6 1179.7,294.8 1181.7,293.6 C1183.7,292.4 1184.5,290.7 1186.3,290.0 C1188.1,289.3 1190.6,289.7 1192.7,289.4 C1194.8,289.1 1196.9,288.7 1199.0,288.1 C1201.1,287.5 1203.2,286.3 1205.3,285.6 C1207.4,284.9 1209.5,284.3 1211.6,283.7 C1213.7,283.1 1215.9,282.2 1218.0,281.8 C1220.1,281.4 1222.2,281.6 1224.3,281.1 C1226.4,280.6 1228.5,279.8 1230.6,278.6 C1232.7,277.5 1234.9,275.2 1237.0,274.2 C1239.1,273.1 1241.5,272.9 1243.3,272.3 C1245.1,271.7 1247.2,270.7 1248.0,270.4"/>
<path stroke="#2f86cc" d="M727.5,76.8 C728.8,77.3 732.5,78.8 735.0,80.1 C737.5,81.4 740.0,82.9 742.5,84.6 C745.0,86.3 747.5,88.2 750.0,90.3 C752.5,92.4 755.0,94.7 757.5,97.1 C760.0,99.5 762.5,102.1 765.0,104.9 C767.5,107.7 770.0,110.6 772.5,113.7 C775.0,116.8 777.5,120.0 780.0,123.4 C782.5,126.8 785.0,130.4 787.5,134.0 C790.0,137.6 792.5,141.3 795.0,145.2 C797.5,149.1 800.0,153.1 802.5,157.2 C805.0,161.3 807.1,164.7 810.0,169.7 C812.9,174.7 816.7,181.2 820.0,187.1 C823.3,193.0 826.7,199.1 830.0,205.2 C833.3,211.3 836.7,217.6 840.0,223.8 C843.3,230.0 846.7,236.3 850.0,242.6 C853.3,248.9 857.5,256.8 860.0,261.5 C862.5,266.2 863.5,268.5 865.0,270.9 C866.5,273.3 867.5,274.4 868.8,276.0 C870.1,277.6 871.3,279.5 872.6,280.5 C873.9,281.5 875.3,281.9 876.5,282.0 C877.7,282.1 878.8,281.8 880.0,281.0 C881.2,280.2 882.7,279.2 883.8,277.5 C884.9,275.8 885.6,273.4 886.5,271.0 C887.4,268.6 888.1,266.3 888.9,263.0 C889.7,259.7 890.9,255.0 891.5,251.0 C892.1,247.0 891.8,243.5 892.4,239.0 C893.0,234.5 894.1,229.1 895.0,224.0 C895.9,218.9 896.9,212.4 897.6,208.5 C898.3,204.6 898.7,203.0 899.3,200.3 C899.9,197.6 900.6,195.0 901.3,192.3 C902.0,189.6 902.9,187.1 903.7,184.3 C904.5,181.5 905.3,177.9 906.0,175.5 C906.7,173.1 907.1,171.7 907.8,170.0 C908.5,168.3 909.2,166.7 910.0,165.5 C910.8,164.3 911.7,163.5 912.5,163.0 C913.3,162.5 914.2,162.2 915.0,162.3 C915.8,162.4 916.7,162.7 917.5,163.5 C918.3,164.3 918.8,164.3 920.0,167.0 C921.2,169.7 923.1,175.9 924.6,179.6 C926.1,183.3 927.3,186.2 928.7,189.2 C930.1,192.2 931.4,194.9 932.8,197.4 C934.2,199.9 935.5,201.9 936.9,204.2 C938.3,206.5 939.9,209.3 941.0,211.1 C942.1,212.9 942.6,213.6 943.8,215.2 C944.9,216.8 946.5,219.1 947.9,220.7 C949.3,222.2 950.8,223.5 952.0,224.5 C953.2,225.5 953.4,225.8 955.0,226.5 C956.6,227.2 959.5,228.1 961.8,228.4 C964.0,228.8 966.3,228.4 968.5,228.6 C970.7,228.8 973.1,228.7 975.0,229.8 C976.9,231.0 978.6,233.3 980.1,235.5 C981.6,237.7 982.9,240.4 984.3,243.0 C985.7,245.6 987.3,249.0 988.5,251.3 C989.7,253.6 990.4,255.1 991.5,257.0 C992.6,258.9 993.7,260.9 995.0,263.0 C996.3,265.1 997.8,267.5 999.2,269.5 C1000.6,271.5 1002.0,273.4 1003.4,275.0 C1004.8,276.6 1006.2,277.9 1007.6,279.3 C1009.0,280.7 1010.4,282.1 1011.8,283.5 C1013.2,284.9 1014.7,286.3 1016.1,287.7 C1017.5,289.1 1018.8,290.3 1020.3,291.7 C1021.8,293.1 1022.2,293.7 1025.0,296.0 C1027.8,298.3 1033.2,302.9 1037.0,305.5 C1040.8,308.1 1044.0,310.0 1047.5,311.8 C1051.0,313.6 1054.6,315.3 1058.1,316.4 C1061.6,317.5 1064.9,318.1 1068.6,318.5 C1072.2,318.9 1077.2,318.8 1080.0,318.8 C1082.8,318.8 1083.6,318.8 1085.3,318.6 C1087.0,318.4 1088.7,317.8 1090.4,317.7 C1092.1,317.6 1093.7,317.9 1095.4,318.0 C1097.1,318.1 1098.8,318.2 1100.5,318.0 C1102.2,317.8 1103.9,317.2 1105.6,316.7 C1107.3,316.2 1109.1,315.6 1110.6,315.2 C1112.1,314.8 1112.9,314.3 1114.4,314.2 C1115.9,314.1 1117.8,314.9 1119.5,314.8 C1121.2,314.7 1122.9,314.1 1124.6,313.5 C1126.3,312.9 1127.7,311.7 1129.6,311.0 C1131.5,310.3 1134.2,309.6 1135.9,309.1 C1137.6,308.6 1137.3,308.6 1140.0,307.8 C1142.7,307.0 1147.7,305.9 1152.2,304.2 C1156.7,302.5 1162.0,299.4 1166.9,297.5 C1171.8,295.6 1176.4,294.7 1181.7,293.0 C1187.0,291.3 1194.0,289.1 1199.0,287.5 C1204.0,285.9 1207.4,284.4 1211.6,283.2 C1215.8,282.0 1220.1,282.0 1224.3,280.5 C1228.5,279.0 1233.0,275.8 1237.0,274.0 C1241.0,272.2 1246.2,270.7 1248.0,270.0"/>
<path stroke="#2aa878" d="M727.5,76.6 C728.8,77.1 732.5,78.6 735.0,79.9 C737.5,81.2 740.0,82.7 742.5,84.4 C745.0,86.1 747.5,88.0 750.0,90.1 C752.5,92.2 755.0,94.5 757.5,96.9 C760.0,99.3 762.5,101.9 765.0,104.7 C767.5,107.5 770.0,110.4 772.5,113.5 C775.0,116.6 777.5,119.8 780.0,123.2 C782.5,126.6 785.0,130.2 787.5,133.8 C790.0,137.4 792.5,141.1 795.0,145.0 C797.5,148.9 800.0,152.9 802.5,157.0 C805.0,161.1 807.1,164.5 810.0,169.5 C812.9,174.5 816.7,181.0 820.0,186.9 C823.3,192.8 826.7,198.9 830.0,205.0 C833.3,211.1 836.7,217.4 840.0,223.6 C843.3,229.8 846.7,236.1 850.0,242.4 C853.3,248.7 857.5,256.6 860.0,261.3 C862.5,266.0 863.5,268.0 865.0,270.7 C866.5,273.4 867.7,275.7 869.0,277.5 C870.3,279.3 871.5,280.7 872.6,281.5 C873.7,282.3 874.5,282.2 875.5,282.3 C876.5,282.4 877.4,282.2 878.3,281.9 C879.2,281.6 880.2,281.0 881.0,280.5 C881.8,280.0 882.0,280.4 883.0,278.7 C884.0,277.0 885.7,273.4 886.8,270.1 C887.9,266.8 888.6,262.9 889.6,258.8 C890.6,254.7 892.0,248.6 892.5,245.5 C893.0,242.4 892.1,243.4 892.6,240.0 C893.1,236.6 894.3,230.2 895.2,225.0 C896.1,219.8 897.1,213.1 897.8,209.0 C898.5,204.9 898.9,203.3 899.5,200.6 C900.1,197.9 900.8,195.3 901.5,192.6 C902.2,189.9 903.1,187.3 903.9,184.5 C904.7,181.7 905.4,178.2 906.2,176.0 C907.0,173.8 907.7,172.8 908.5,171.5 C909.3,170.2 910.1,169.2 911.0,168.5 C911.9,167.8 913.1,167.3 914.1,167.4 C915.1,167.5 916.0,168.0 917.0,169.0 C918.0,170.0 918.7,170.4 920.0,173.5 C921.3,176.6 923.1,184.3 924.6,187.8 C926.1,191.3 927.1,192.4 928.7,194.7 C930.3,197.0 932.6,199.4 934.2,201.5 C935.8,203.6 936.9,204.9 938.3,207.0 C939.7,209.1 941.0,211.8 942.4,213.8 C943.8,215.9 945.1,217.7 946.5,219.3 C947.9,220.9 949.2,222.3 950.6,223.4 C952.0,224.5 953.1,225.1 955.0,226.0 C956.9,226.9 959.5,228.3 961.8,228.6 C964.0,228.9 966.3,227.7 968.5,227.8 C970.7,227.9 972.9,227.9 975.0,229.0 C977.1,230.1 979.1,232.0 980.9,234.3 C982.7,236.6 984.3,239.8 986.0,242.7 C987.7,245.6 989.5,249.1 991.0,252.0 C992.5,254.9 993.5,257.5 995.0,260.1 C996.5,262.7 998.4,265.2 1000.1,267.6 C1001.8,270.0 1003.4,272.3 1005.1,274.4 C1006.8,276.5 1008.5,278.3 1010.2,280.3 C1011.9,282.3 1013.5,284.2 1015.2,286.2 C1016.9,288.2 1019.0,290.6 1020.3,292.1 C1021.6,293.6 1021.5,293.8 1022.8,295.0 C1024.1,296.2 1025.6,297.8 1028.0,299.5 C1030.4,301.2 1033.8,303.4 1037.0,305.5 C1040.2,307.6 1044.0,310.0 1047.5,311.8 C1051.0,313.6 1054.6,315.3 1058.1,316.4 C1061.6,317.5 1064.9,318.1 1068.6,318.5 C1072.2,318.9 1077.2,318.5 1080.0,318.5 C1082.8,318.5 1083.6,318.7 1085.3,318.6 C1087.0,318.5 1088.7,317.8 1090.4,317.7 C1092.1,317.6 1093.7,317.9 1095.4,318.0 C1097.1,318.1 1098.8,318.2 1100.5,318.0 C1102.2,317.8 1103.9,317.2 1105.6,316.7 C1107.3,316.2 1109.1,315.6 1110.6,315.2 C1112.1,314.8 1112.9,314.3 1114.4,314.2 C1115.9,314.1 1117.8,314.9 1119.5,314.8 C1121.2,314.7 1122.9,314.1 1124.6,313.5 C1126.3,312.9 1127.7,311.7 1129.6,311.0 C1131.5,310.3 1134.2,309.6 1135.9,309.1 C1137.6,308.6 1138.5,308.1 1140.0,307.8 C1141.5,307.5 1142.8,307.8 1144.8,307.2 C1146.8,306.6 1149.7,305.4 1152.2,304.5 C1154.7,303.6 1157.6,302.7 1159.6,301.7 C1161.6,300.7 1162.8,299.2 1164.0,298.5 C1165.2,297.8 1165.2,297.4 1166.9,297.2 C1168.6,296.9 1171.8,297.6 1174.3,297.0 C1176.8,296.4 1179.7,294.7 1181.7,293.6 C1183.7,292.5 1184.5,291.4 1186.3,290.5 C1188.1,289.6 1190.6,289.0 1192.7,288.5 C1194.8,288.0 1196.9,288.1 1199.0,287.5 C1201.1,286.9 1203.2,286.0 1205.3,285.2 C1207.4,284.4 1209.8,283.2 1211.6,282.5 C1213.4,281.8 1214.9,281.2 1216.0,281.0 C1217.1,280.8 1216.6,281.3 1218.0,281.3 C1219.4,281.3 1222.2,281.6 1224.3,281.1 C1226.4,280.7 1228.5,279.7 1230.6,278.6 C1232.7,277.5 1234.9,275.5 1237.0,274.5 C1239.1,273.5 1241.5,273.1 1243.3,272.5 C1245.1,271.9 1247.2,271.2 1248.0,271.0"/>
<path stroke="#c0282e" d="M727.5,76.4 C728.8,77.0 732.5,78.4 735.0,79.7 C737.5,81.0 740.0,82.5 742.5,84.2 C745.0,85.9 747.5,87.8 750.0,89.9 C752.5,92.0 755.0,94.3 757.5,96.7 C760.0,99.1 762.5,101.7 765.0,104.5 C767.5,107.3 770.0,110.2 772.5,113.3 C775.0,116.4 777.5,119.6 780.0,123.0 C782.5,126.4 785.0,130.0 787.5,133.6 C790.0,137.2 792.5,140.9 795.0,144.8 C797.5,148.7 800.0,152.7 802.5,156.8 C805.0,160.9 807.1,164.3 810.0,169.3 C812.9,174.3 816.7,180.8 820.0,186.7 C823.3,192.6 826.7,198.7 830.0,204.8 C833.3,210.9 836.7,217.2 840.0,223.4 C843.3,229.6 846.7,235.9 850.0,242.2 C853.3,248.5 857.5,256.4 860.0,261.1 C862.5,265.8 863.5,268.1 865.0,270.5 C866.5,272.9 867.5,274.3 868.8,275.8 C870.1,277.3 871.3,279.0 872.6,279.6 C873.9,280.2 875.1,280.1 876.4,279.6 C877.7,279.1 878.9,278.2 880.2,276.8 C881.5,275.4 882.9,273.5 884.0,271.1 C885.1,268.7 885.9,265.9 886.8,262.6 C887.7,259.3 888.7,255.3 889.6,251.2 C890.5,247.1 891.2,242.7 892.0,237.9 C892.8,233.2 893.7,227.8 894.6,222.7 C895.5,217.6 896.6,211.4 897.3,207.6 C898.0,203.8 898.4,202.6 899.0,200.0 C899.6,197.4 900.2,194.8 901.0,192.0 C901.8,189.2 902.6,186.2 903.5,183.5 C904.4,180.8 905.2,177.4 906.1,175.5 C907.0,173.6 908.0,172.8 909.0,172.0 C910.0,171.2 911.4,170.9 912.4,171.0 C913.4,171.1 914.1,171.8 915.0,172.5 C915.9,173.2 916.8,174.6 917.5,175.5 C918.2,176.4 918.1,176.6 919.1,178.2 C920.1,179.8 921.6,182.8 923.2,185.1 C924.8,187.4 926.9,189.6 928.7,191.9 C930.5,194.2 932.6,196.3 934.2,198.8 C935.8,201.3 936.9,204.5 938.3,207.0 C939.7,209.5 940.8,211.5 942.4,213.8 C944.0,216.1 946.3,219.0 947.9,220.7 C949.5,222.4 950.8,223.1 952.0,224.1 C953.2,225.1 953.5,225.8 955.1,226.5 C956.7,227.2 959.6,228.1 961.8,228.6 C964.0,229.1 966.5,229.1 968.5,229.4 C970.5,229.7 971.7,229.3 973.6,230.5 C975.5,231.7 978.3,234.5 980.1,236.8 C981.9,239.1 982.9,241.7 984.3,244.4 C985.7,247.1 987.3,250.4 988.5,252.8 C989.7,255.2 990.4,256.9 991.5,259.0 C992.6,261.1 993.7,263.1 995.0,265.1 C996.3,267.1 997.8,269.2 999.2,271.0 C1000.6,272.8 1002.0,274.6 1003.4,276.1 C1004.8,277.7 1006.2,278.9 1007.6,280.3 C1009.0,281.7 1010.4,283.1 1011.8,284.5 C1013.2,285.9 1014.8,287.3 1016.1,288.7 C1017.4,290.1 1017.9,291.3 1019.4,292.9 C1020.9,294.5 1022.8,296.4 1025.0,298.5 C1027.2,300.6 1029.7,303.3 1032.7,305.5 C1035.8,307.7 1039.8,309.7 1043.3,311.5 C1046.8,313.3 1051.0,315.1 1053.8,316.5 C1056.6,317.9 1057.9,319.1 1060.0,319.9 C1062.1,320.7 1064.2,320.8 1066.3,321.1 C1068.4,321.4 1070.6,321.8 1072.7,321.8 C1074.8,321.8 1076.9,321.4 1079.0,321.1 C1081.1,320.8 1083.2,320.0 1085.3,319.9 C1087.4,319.8 1089.5,320.4 1091.6,320.5 C1093.7,320.6 1096.1,320.5 1098.0,320.3 C1099.9,320.1 1101.3,319.7 1103.0,319.2 C1104.7,318.7 1106.4,317.9 1108.1,317.3 C1109.8,316.7 1111.5,315.5 1113.2,315.4 C1114.9,315.3 1116.7,316.5 1118.2,316.7 C1119.7,316.9 1120.7,317.0 1122.0,316.7 C1123.3,316.4 1124.3,315.9 1125.8,314.8 C1127.3,313.8 1129.2,311.2 1130.9,310.4 C1132.6,309.5 1134.4,309.9 1135.9,309.7 C1137.4,309.5 1138.8,309.0 1140.0,309.1 C1141.2,309.2 1142.0,310.7 1143.3,310.3 C1144.6,309.9 1146.5,307.9 1148.0,307.0 C1149.5,306.1 1150.3,305.6 1152.2,304.7 C1154.1,303.8 1157.1,302.5 1159.6,301.5 C1162.0,300.5 1164.5,299.2 1166.9,298.5 C1169.4,297.8 1171.8,298.3 1174.3,297.5 C1176.8,296.7 1179.7,294.8 1181.7,293.6 C1183.7,292.4 1184.5,291.1 1186.3,290.5 C1188.1,289.9 1190.6,290.3 1192.7,290.0 C1194.8,289.7 1196.9,289.3 1199.0,288.5 C1201.1,287.7 1203.2,286.1 1205.3,285.3 C1207.4,284.5 1209.5,284.1 1211.6,283.5 C1213.7,282.9 1215.9,282.3 1218.0,282.0 C1220.1,281.7 1222.2,282.1 1224.3,281.5 C1226.4,280.9 1228.5,279.7 1230.6,278.6 C1232.7,277.5 1234.9,275.7 1237.0,275.0 C1239.1,274.3 1241.5,274.5 1243.3,274.5 C1245.1,274.5 1247.2,274.9 1248.0,275.0"/>
<path stroke="#f6c43c" d="M727.5,75.5 C728.8,76.0 732.5,77.5 735.0,78.8 C737.5,80.1 740.0,81.6 742.5,83.3 C745.0,85.0 747.5,86.9 750.0,89.0 C752.5,91.1 755.0,93.4 757.5,95.8 C760.0,98.2 762.5,100.8 765.0,103.6 C767.5,106.4 770.0,109.3 772.5,112.4 C775.0,115.5 777.5,118.7 780.0,122.1 C782.5,125.5 785.0,129.1 787.5,132.7 C790.0,136.3 792.5,140.0 795.0,143.9 C797.5,147.8 800.0,151.8 802.5,155.9 C805.0,160.0 807.1,163.4 810.0,168.4 C812.9,173.4 816.7,179.9 820.0,185.8 C823.3,191.7 826.7,197.8 830.0,203.9 C833.3,210.0 836.7,216.3 840.0,222.5 C843.3,228.7 846.7,235.0 850.0,241.3 C853.3,247.6 857.5,255.5 860.0,260.2 C862.5,264.9 863.5,266.7 865.0,269.6 C866.5,272.5 867.7,276.0 869.0,277.8 C870.3,279.6 871.7,279.9 872.9,280.5 C874.1,281.1 875.0,281.5 876.0,281.6 C877.0,281.7 878.0,281.5 879.0,281.0 C880.0,280.5 881.0,279.8 882.0,278.5 C883.0,277.2 884.0,275.4 885.0,273.0 C886.0,270.6 887.1,267.2 888.0,264.0 C888.9,260.8 889.6,258.0 890.5,254.0 C891.4,250.0 892.3,245.0 893.2,240.0 C894.1,235.0 895.2,229.0 896.0,224.0 C896.8,219.0 897.6,213.8 898.2,210.0 C898.8,206.2 899.2,203.9 899.8,201.0 C900.4,198.1 901.3,194.8 902.0,192.5 C902.7,190.2 903.3,188.3 904.0,187.0 C904.7,185.7 905.2,185.2 906.0,184.5 C906.8,183.8 908.0,183.4 909.0,183.0 C910.0,182.6 911.1,182.3 912.0,182.3 C912.9,182.3 913.8,182.5 914.5,183.0 C915.2,183.5 915.8,184.5 916.3,185.3 C916.8,186.1 917.0,185.8 917.7,187.8 C918.4,189.8 919.4,194.2 920.5,197.4 C921.6,200.6 923.2,204.3 924.6,207.0 C926.0,209.7 927.1,211.8 928.7,213.8 C930.3,215.9 932.4,217.8 934.2,219.3 C936.0,220.8 937.9,221.8 939.7,222.7 C941.5,223.6 943.3,224.2 945.1,224.8 C946.9,225.4 949.0,225.8 950.6,226.2 C952.2,226.6 953.1,227.4 955.0,227.5 C956.9,227.6 959.5,227.3 961.8,226.9 C964.0,226.5 966.5,225.4 968.5,225.2 C970.5,225.0 972.2,225.5 973.6,225.8 C975.0,226.1 975.7,226.4 976.7,227.0 C977.7,227.6 978.6,228.3 979.6,229.2 C980.6,230.1 981.3,230.6 982.6,232.5 C983.9,234.4 985.9,237.7 987.6,240.5 C989.3,243.3 991.5,247.2 992.7,249.4 C993.9,251.6 993.8,251.0 995.0,253.5 C996.2,256.0 998.4,261.2 1000.1,264.3 C1001.8,267.4 1003.4,269.4 1005.1,271.8 C1006.8,274.2 1008.5,276.5 1010.2,278.6 C1011.9,280.7 1013.5,282.5 1015.2,284.5 C1016.9,286.5 1018.9,288.6 1020.3,290.4 C1021.7,292.1 1021.5,292.9 1023.6,295.0 C1025.7,297.1 1029.4,300.3 1032.7,303.0 C1036.0,305.7 1039.8,308.8 1043.3,311.0 C1046.8,313.2 1050.3,315.1 1053.8,316.5 C1057.3,317.9 1061.2,318.8 1064.4,319.5 C1067.6,320.2 1069.2,320.6 1072.7,320.5 C1076.2,320.4 1081.1,319.6 1085.3,319.2 C1089.5,318.8 1093.8,318.5 1098.0,318.0 C1102.2,317.5 1106.4,316.9 1110.6,316.1 C1114.8,315.4 1120.1,314.4 1123.3,313.5 C1126.5,312.6 1127.2,311.8 1130.0,311.0 C1132.8,310.2 1136.3,309.6 1140.0,308.5 C1143.7,307.4 1147.7,306.2 1152.2,304.5 C1156.7,302.8 1162.0,299.9 1166.9,298.0 C1171.8,296.1 1177.4,294.5 1181.7,293.0 C1186.0,291.5 1188.8,290.2 1192.7,289.0 C1196.6,287.8 1201.1,286.8 1205.3,285.5 C1209.5,284.2 1213.8,282.7 1218.0,281.5 C1222.2,280.3 1226.4,279.8 1230.6,278.3 C1234.8,276.8 1240.4,273.6 1243.3,272.5 C1246.2,271.4 1247.2,271.7 1248.0,271.5"/>
</g>
<defs><linearGradient id="fgb" gradientUnits="userSpaceOnUse" x1="845.0" y1="0" x2="862.0" y2="0"><stop offset="0" stop-color="#fff"/><stop offset="1" stop-color="#000"/></linearGradient><mask id="fmb" maskUnits="userSpaceOnUse" x="0" y="0" width="1266" height="474"><rect x="0" y="0" width="1266" height="474" fill="url(#fgb)"/></mask></defs>
<g fill="none" stroke-linejoin="round" stroke-linecap="round" mask="url(#fmb)">
<path stroke="#4a2e14" stroke-width="1.30" transform="translate(0,1.00)" d="M727.5,76.0 C728.8,76.5 732.5,78.0 735.0,79.3 C737.5,80.6 740.0,82.1 742.5,83.8 C745.0,85.5 747.5,87.4 750.0,89.5 C752.5,91.6 755.0,93.9 757.5,96.3 C760.0,98.7 762.5,101.3 765.0,104.1 C767.5,106.9 770.0,109.8 772.5,112.9 C775.0,116.0 777.5,119.2 780.0,122.6 C782.5,126.0 785.0,129.6 787.5,133.2 C790.0,136.8 792.5,140.5 795.0,144.4 C797.5,148.3 800.0,152.3 802.5,156.4 C805.0,160.5 807.1,163.9 810.0,168.9 C812.9,173.9 816.7,180.4 820.0,186.3 C823.3,192.2 826.7,198.3 830.0,204.4 C833.3,210.5 836.7,216.8 840.0,223.0 C843.3,229.2 846.7,235.5 850.0,241.8 C853.3,248.1 857.5,256.0 860.0,260.7 C862.5,265.4 863.5,267.2 865.0,270.1 C866.5,273.0 868.3,276.5 869.0,277.8"/>
<path stroke="#d58a2a" stroke-width="1.50" transform="translate(0,0.15)" d="M727.5,76.0 C728.8,76.5 732.5,78.0 735.0,79.3 C737.5,80.6 740.0,82.1 742.5,83.8 C745.0,85.5 747.5,87.4 750.0,89.5 C752.5,91.6 755.0,93.9 757.5,96.3 C760.0,98.7 762.5,101.3 765.0,104.1 C767.5,106.9 770.0,109.8 772.5,112.9 C775.0,116.0 777.5,119.2 780.0,122.6 C782.5,126.0 785.0,129.6 787.5,133.2 C790.0,136.8 792.5,140.5 795.0,144.4 C797.5,148.3 800.0,152.3 802.5,156.4 C805.0,160.5 807.1,163.9 810.0,168.9 C812.9,173.9 816.7,180.4 820.0,186.3 C823.3,192.2 826.7,198.3 830.0,204.4 C833.3,210.5 836.7,216.8 840.0,223.0 C843.3,229.2 846.7,235.5 850.0,241.8 C853.3,248.1 857.5,256.0 860.0,260.7 C862.5,265.4 863.5,267.2 865.0,270.1 C866.5,273.0 868.3,276.5 869.0,277.8"/>
<path stroke="#f6cc62" stroke-width="0.90" transform="translate(0,-0.65)" d="M727.5,76.0 C728.8,76.5 732.5,78.0 735.0,79.3 C737.5,80.6 740.0,82.1 742.5,83.8 C745.0,85.5 747.5,87.4 750.0,89.5 C752.5,91.6 755.0,93.9 757.5,96.3 C760.0,98.7 762.5,101.3 765.0,104.1 C767.5,106.9 770.0,109.8 772.5,112.9 C775.0,116.0 777.5,119.2 780.0,122.6 C782.5,126.0 785.0,129.6 787.5,133.2 C790.0,136.8 792.5,140.5 795.0,144.4 C797.5,148.3 800.0,152.3 802.5,156.4 C805.0,160.5 807.1,163.9 810.0,168.9 C812.9,173.9 816.7,180.4 820.0,186.3 C823.3,192.2 826.7,198.3 830.0,204.4 C833.3,210.5 836.7,216.8 840.0,223.0 C843.3,229.2 846.7,235.5 850.0,241.8 C853.3,248.1 857.5,256.0 860.0,260.7 C862.5,265.4 863.5,267.2 865.0,270.1 C866.5,273.0 868.3,276.5 869.0,277.8"/>
</g>
<rect x="770.4" y="25.4" width="140.1" height="70.8" fill="#fff" stroke="#4a4a4a" stroke-width="1.2"/>
<g font-size="15.2" font-weight="bold" fill="#141414">
<text x="777.6" y="44.8" textLength="91.1" lengthAdjust="spacingAndGlyphs"><tspan font-style="italic">n</tspan> = 2000 rpm</text>
<text x="777.6" y="65.6" textLength="114.3" lengthAdjust="spacingAndGlyphs"><tspan font-style="italic">BMEP</tspan> = 0.4 MPa</text>
<text x="777.6" y="85.8" textLength="71.9" lengthAdjust="spacingAndGlyphs"><tspan font-style="italic">k</tspan><tspan font-style="italic" font-size="10.2" dy="3.6">EGR</tspan><tspan dy="-3.6"> = 0.26</tspan></text>
</g>
<rect x="1155.3" y="19.5" width="79.1" height="125.9" fill="#fff" stroke="#4a4a4a" stroke-width="1.2"/>
<line x1="1159.4" y1="32.1" x2="1176.8" y2="32.1" stroke="#262626" stroke-width="1.5"/>
<text x="1178.3" y="36.8" font-size="15" font-weight="bold" fill="#141414" textLength="36.4" lengthAdjust="spacingAndGlyphs">D100</text>
<line x1="1159.4" y1="57.4" x2="1176.8" y2="57.4" stroke="#2f86cc" stroke-width="1.5"/>
<text x="1178.3" y="62.1" font-size="15" font-weight="bold" fill="#141414" textLength="52.6" lengthAdjust="spacingAndGlyphs">D70F30</text>
<line x1="1159.4" y1="82.7" x2="1176.8" y2="82.7" stroke="#2aa878" stroke-width="1.5"/>
<text x="1178.3" y="87.4" font-size="15" font-weight="bold" fill="#141414" textLength="52.6" lengthAdjust="spacingAndGlyphs">D50F50</text>
<line x1="1159.4" y1="107.4" x2="1176.8" y2="107.4" stroke="#c0282e" stroke-width="1.5"/>
<text x="1178.3" y="112.1" font-size="15" font-weight="bold" fill="#141414" textLength="52.6" lengthAdjust="spacingAndGlyphs">D30F70</text>
<line x1="1159.4" y1="132.4" x2="1176.8" y2="132.4" stroke="#f6c43c" stroke-width="1.5"/>
<text x="1178.3" y="137.1" font-size="15" font-weight="bold" fill="#141414" textLength="33.5" lengthAdjust="spacingAndGlyphs">F100</text>
<g fill="#111"><path d="M301.15,440.60 Q289.45,453.25 301.15,465.90 L301.70,465.70 Q292.10,453.25 301.70,440.80 Z"/><path d="M319.05,440.60 Q330.75,453.25 319.05,465.90 L318.50,465.70 Q328.10,453.25 318.50,440.80 Z"/><path d="M945.05,440.40 Q934.15,453.15 945.05,465.90 L945.60,465.70 Q936.80,453.15 945.60,440.60 Z"/><path d="M966.55,440.40 Q977.65,453.15 966.55,465.90 L966.00,465.70 Q975.00,453.15 966.00,440.60 Z"/></g><text x="310.6" y="460.5" font-family="Liberation Serif" font-size="28" font-weight="bold" fill="#000" text-anchor="middle" textLength="12.4" lengthAdjust="spacingAndGlyphs">a</text><text x="955.6" y="460.6" font-family="Liberation Serif" font-size="29.3" font-weight="bold" fill="#000" text-anchor="middle" textLength="15.0" lengthAdjust="spacingAndGlyphs">b</text>
</svg>
</body></html>
